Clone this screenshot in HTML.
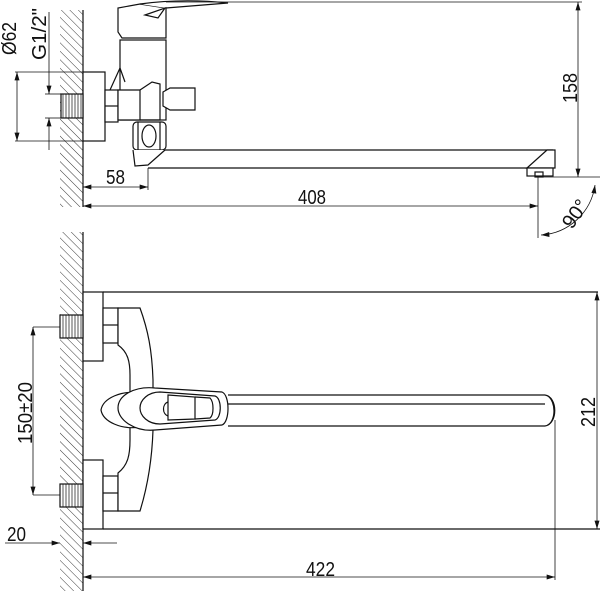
<!DOCTYPE html>
<html><head><style>html,body{margin:0;padding:0;background:#fff}svg{display:block}</style></head><body>
<svg width="600" height="591" viewBox="0 0 600 591" xmlns="http://www.w3.org/2000/svg" font-family="Liberation Sans, sans-serif">
<defs>
<pattern id="h" width="6" height="6" patternUnits="userSpaceOnUse" patternTransform="rotate(-45)">
<line x1="0" y1="0" x2="0" y2="6" stroke="#222" stroke-width="0.9"/>
</pattern>
<marker id="a" viewBox="0 0 10 6" refX="10" refY="3" markerWidth="11" markerHeight="5" orient="auto-start-reverse" markerUnits="userSpaceOnUse"><path d="M0,0 L10,3 L0,6 z" fill="#111"/></marker>
</defs>
<g stroke="#111" fill="none" stroke-width="1.2">
<rect x="60" y="10" width="23" height="197" fill="url(#h)" stroke="none"/>
<line x1="83" y1="10" x2="83" y2="207"/>
<rect x="83" y="72" width="22" height="69" fill="#fff"/>
<rect x="61" y="94" width="22" height="24" fill="#fff"/>
<g stroke-width="0.7"><line x1="63" y1="94" x2="63" y2="118"/><line x1="66" y1="94" x2="66" y2="118"/><line x1="69" y1="94" x2="69" y2="118"/><line x1="72" y1="94" x2="72" y2="118"/><line x1="75" y1="94" x2="75" y2="118"/><line x1="78" y1="94" x2="78" y2="118"/><line x1="81" y1="94" x2="81" y2="118"/></g>
<line x1="15" y1="72" x2="83" y2="72" stroke-width="0.8"/>
<line x1="15" y1="141" x2="83" y2="141" stroke-width="0.8"/>
<line x1="17" y1="72" x2="17" y2="141" marker-start="url(#a)" marker-end="url(#a)" stroke-width="0.8"/>
<line x1="45" y1="94" x2="61" y2="94" stroke-width="0.8"/>
<line x1="45" y1="118" x2="61" y2="118" stroke-width="0.8"/>
<line x1="49" y1="12" x2="49" y2="94" marker-end="url(#a)" stroke-width="0.8"/>
<line x1="49" y1="150" x2="49" y2="118" marker-end="url(#a)" stroke-width="0.8"/>
<rect x="105" y="90" width="13" height="32" fill="#fff"/>
<line x1="105" y1="106" x2="118" y2="106"/>
<rect x="120" y="40" width="46" height="80" fill="#fff"/>
<path d="M118,8 L118,32 L122,38 L166,38 L166,8 L140,4 Z" fill="#fff"/>
<path d="M140,4 C170,0 200,0 228,3 L166,8" fill="#fff"/>
<path d="M145,15 L165,8 L158,18 Z"/>
<path d="M118,90 L140,90 L140,120 L118,120 Z" fill="#fff"/>
<path d="M140,90 L152,82 L160,84 L160,120 L140,120"/>
<path d="M110,90 L120,68 L125,82"/>
<path d="M163,92 L170,88 L195,88 L195,110 L170,110 L163,106 Z" fill="#fff"/>
<rect x="133" y="122" width="33" height="28" fill="#fff" rx="4"/>
<ellipse cx="149" cy="136" rx="7" ry="11"/>
<line x1="138" y1="122" x2="138" y2="150"/><line x1="160" y1="122" x2="160" y2="150"/>
<path d="M133,150 L135,166 L148,165 L165,150" fill="#fff"/>
<line x1="165" y1="150" x2="553" y2="150"/>
<line x1="148" y1="168" x2="527" y2="168"/>
<path d="M527,168 L547,150 L555,150 L555,168 Z" fill="#fff"/>
<rect x="527" y="168" width="26" height="8" fill="#fff"/>
<rect x="535" y="172" width="8" height="5"/>
<line x1="166" y1="2" x2="582" y2="2" stroke-width="0.8"/>
<line x1="578" y1="2" x2="578" y2="177" marker-start="url(#a)" marker-end="url(#a)" stroke-width="0.8"/>
<line x1="538" y1="177" x2="600" y2="177" stroke-width="0.8"/>
<line x1="538" y1="177" x2="538" y2="238" stroke-width="0.8"/>
<line x1="148" y1="168" x2="148" y2="190" stroke-width="0.8"/>
<line x1="83" y1="187" x2="148" y2="187" marker-start="url(#a)" marker-end="url(#a)" stroke-width="0.8"/>
<line x1="83" y1="206" x2="538" y2="206" marker-start="url(#a)" marker-end="url(#a)" stroke-width="0.8"/>
<path d="M595,185 A58,58 0 0 1 541,235" marker-start="url(#a)" marker-end="url(#a)" stroke-width="0.8"/>

<rect x="60" y="232" width="23" height="359" fill="url(#h)" stroke="none"/>
<line x1="83" y1="232" x2="83" y2="591"/>
<rect x="83" y="292" width="20" height="69" fill="#fff"/>
<rect x="83" y="460" width="20" height="69" fill="#fff"/>
<rect x="60" y="315" width="23" height="23" fill="#fff"/>
<rect x="60" y="484" width="23" height="23" fill="#fff"/>
<g stroke-width="0.7"><line x1="63" y1="315" x2="63" y2="338"/><line x1="66" y1="315" x2="66" y2="338"/><line x1="69" y1="315" x2="69" y2="338"/><line x1="72" y1="315" x2="72" y2="338"/><line x1="75" y1="315" x2="75" y2="338"/><line x1="78" y1="315" x2="78" y2="338"/><line x1="81" y1="315" x2="81" y2="338"/>
<line x1="63" y1="484" x2="63" y2="507"/><line x1="66" y1="484" x2="66" y2="507"/><line x1="69" y1="484" x2="69" y2="507"/><line x1="72" y1="484" x2="72" y2="507"/><line x1="75" y1="484" x2="75" y2="507"/><line x1="78" y1="484" x2="78" y2="507"/><line x1="81" y1="484" x2="81" y2="507"/></g>
<line x1="103" y1="292" x2="598" y2="292"/>
<line x1="103" y1="529" x2="600" y2="529"/>
<rect x="103" y="308" width="15" height="35" fill="#fff"/><line x1="103" y1="325" x2="118" y2="325"/>
<rect x="103" y="476" width="15" height="35" fill="#fff"/><line x1="103" y1="493" x2="118" y2="493"/>
<path d="M118,308 L140,308 C148,330 152,350 153,380 L153,430 C152,460 148,485 140,511 L118,511 L118,473 C128,465 130,455 130,440 L130,375 C130,362 128,352 118,345 Z" fill="#fff"/>
<path d="M140,393 C122,390 103,398 101,410 C103,422 122,430 140,427" fill="#fff"/>
<path d="M155,388 L222,392 C230,395 230,422 222,425 L155,430 C135,432 118,420 118,408 C118,395 135,386 155,388 Z" fill="#fff"/>
<path d="M160,392 C148,392 140,400 140,408 C140,416 148,424 160,424 L215,420 C222,418 222,398 215,396 Z"/>
<path d="M168,395 L195,397 L195,419 L168,420 Z"/>
<path d="M195,397 L210,398 C214,402 214,415 210,418 L195,419"/>
<path d="M168,402 C162,404 162,414 168,416"/>
<line x1="228" y1="395" x2="545" y2="395"/>
<line x1="228" y1="404" x2="545" y2="404"/>
<line x1="228" y1="426" x2="545" y2="426"/>
<path d="M545,395 C558,397 558,424 545,426"/>
<path d="M548,396 C556,402 556,420 548,425"/>
<line x1="33" y1="327" x2="60" y2="327" stroke-width="0.8"/>
<line x1="33" y1="495" x2="60" y2="495" stroke-width="0.8"/>
<line x1="33" y1="327" x2="33" y2="495" marker-start="url(#a)" marker-end="url(#a)" stroke-width="0.8"/>
<line x1="5" y1="543" x2="60" y2="543" marker-end="url(#a)" stroke-width="0.8"/>
<line x1="117" y1="543" x2="83" y2="543" marker-end="url(#a)" stroke-width="0.8"/>
<line x1="555" y1="420" x2="555" y2="580" stroke-width="0.8"/>
<line x1="83" y1="577" x2="555" y2="577" marker-start="url(#a)" marker-end="url(#a)" stroke-width="0.8"/>
<line x1="597" y1="292" x2="597" y2="529" marker-start="url(#a)" marker-end="url(#a)" stroke-width="0.8"/>
</g>
<g fill="#111" font-size="20">
<text x="106" y="184" textLength="19" lengthAdjust="spacingAndGlyphs">58</text>
<text x="298" y="204" textLength="28" lengthAdjust="spacingAndGlyphs">408</text>
<text x="306" y="576" textLength="29" lengthAdjust="spacingAndGlyphs">422</text>
<text x="7" y="541" textLength="19" lengthAdjust="spacingAndGlyphs">20</text>
<text transform="translate(577,103) rotate(-90)" textLength="30" lengthAdjust="spacingAndGlyphs">158</text>
<text transform="translate(595,427) rotate(-90)" textLength="30" lengthAdjust="spacingAndGlyphs">212</text>
<text transform="translate(32,444) rotate(-90)" textLength="62" lengthAdjust="spacingAndGlyphs">150±20</text>
<text transform="translate(16,55) rotate(-90)" textLength="33" lengthAdjust="spacingAndGlyphs">Ø62</text>
<text transform="translate(46,60) rotate(-90)" textLength="52" lengthAdjust="spacingAndGlyphs">G1/2"</text>
<text transform="translate(572,230) rotate(-55)" textLength="30" lengthAdjust="spacingAndGlyphs">90°</text>
</g>
</svg>
</body></html>
